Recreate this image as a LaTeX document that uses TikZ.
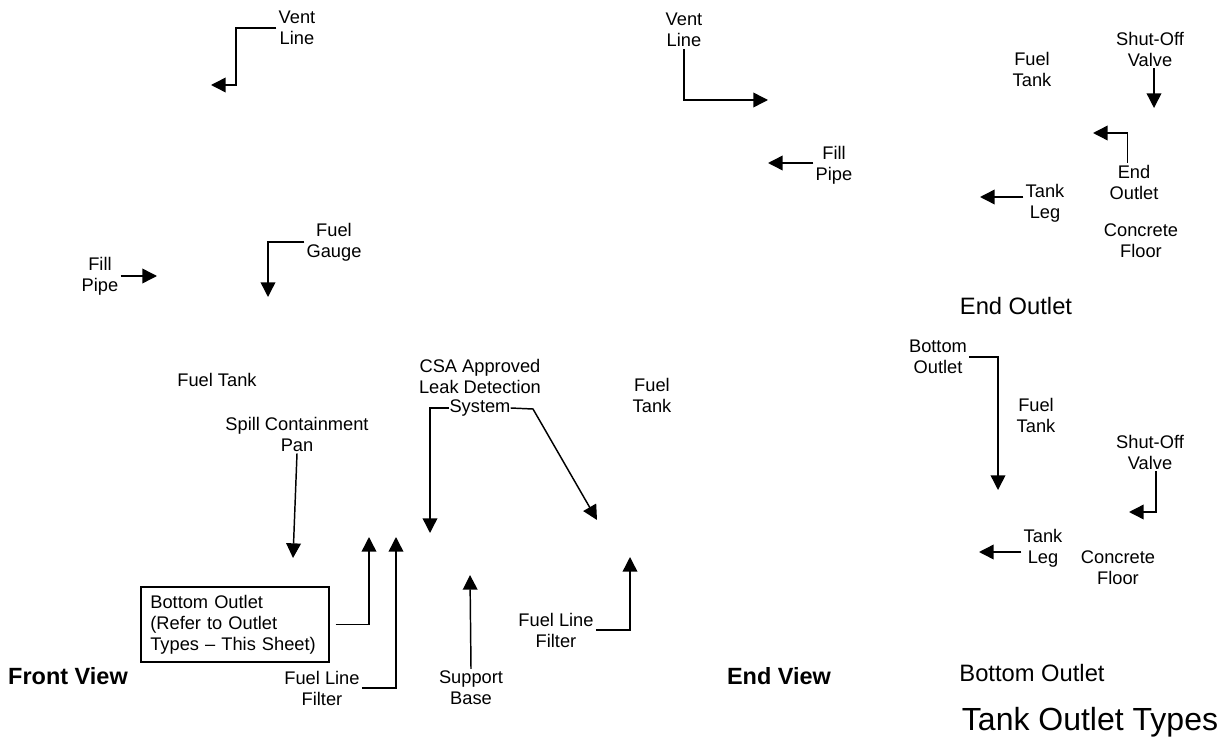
\documentclass[tikz,border=0pt]{standalone}
\usepackage{fontspec}
\setmainfont{Liberation Sans}
\usetikzlibrary{arrows.meta}
\newcommand{\lblfont}{\fontsize{13.7}{15.75}\selectfont}
\begin{document}
\begin{tikzpicture}
        [x=0.75pt, y=-0.75pt,
        lbl/.style={font=\lblfont, align=center, inner sep=1.5pt},
        view/.style={font=\fontsize{17.6}{20}\selectfont\bfseries, inner sep=0pt},
        head/.style={font=\fontsize{17.8}{20}\selectfont, inner sep=0pt},
        arr/.style={line width=1.1pt, -{Triangle[length=11pt,width=11pt]}}]
        \useasboundingbox (0,0) rectangle (1230,745);

        % front view
        \node[lbl] (VentF) at (297,28) {Vent\\Line};
        \node[lbl] (FillF) at (100,276) {Fill\\Pipe};
        \node[lbl] (GaugeF) at (334,242) {Fuel\\Gauge};
        \node[lbl] (TankF) at (217,380) {Fuel Tank};
        \node[lbl] (Spill) at (297,434) {Spill Containment\\Pan};
        \node[font=\lblfont, draw, line width=0.9pt, align=left, text width=127pt,
              inner xsep=7pt, minimum height=56.25pt] (Box) at (235,624.5)
              {Bottom Outlet\\(Refer to Outlet\\Types -- This Sheet)};
        \node[lbl] (FilterF) at (322,688) {Fuel Line\\Filter};
        \node[view] (FrontV) at (68,676) {Front View};

        \coordinate (VentFk) at (236,85);
        \coordinate (VentFt) at (211,85);
        \coordinate (FillFt) at (157,276);
        \coordinate (GaugeFt) at (268,297);
        \coordinate (SpillT) at (293,558);
        \coordinate (BoxT) at (369,537);
        \coordinate (FilterFt) at (396,537);

        \draw[arr] (VentF.west) -| (VentFk) -- (VentFt);
        \draw[arr] (FillF.east) -- (FillFt);
        \draw[arr] (GaugeF.west) -| (GaugeFt);
        \draw[arr] (Spill.south) -- (SpillT);
        \draw[arr] ([xshift=4.5pt]Box.east) -| (BoxT);
        \draw[arr] (FilterF.east) -| (FilterFt);

        % end view
        \node[lbl] (VentE) at (684,30) {Vent\\Line};
        \node[lbl] (FillE) at (834,165) {Fill\\Pipe};
        \node[lbl] (Csa) at (480,376) {CSA Approved\\Leak Detection};
        \node[lbl, inner xsep=0pt] (Sys) at (480,408) {System};
        \node[lbl] (TankE) at (652,395) {Fuel\\Tank};
        \node[lbl] (Support) at (471,688) {Support\\Base};
        \node[lbl] (FilterE) at (556,630) {Fuel Line\\Filter};
        \node[view] (EndV) at (779,676) {End View};

        \coordinate (VentEt) at (768,100);
        \coordinate (FillEt) at (768,163);
        \coordinate (SysL) at (430,533);
        \coordinate (SysK) at (533,409);
        \coordinate (SysR) at (597,520);
        \coordinate (SupportT) at (470,575);
        \coordinate (FilterEt) at (630,557);

        \draw[arr] (VentE.south) |- (VentEt);
        \draw[arr] (FillE.west |- FillEt) -- (FillEt);
        \draw[arr] (Sys.west) -| (SysL);
        \draw[arr] (Sys.east) -- (SysK) -- (SysR);
        \draw[arr] (Support.north) -- (SupportT);
        \draw[arr] (FilterE.east) -| (FilterEt);

        % outlet types
        \node[lbl] (TankO) at (1032,69) {Fuel\\Tank};
        \node[lbl] (ShutO) at (1150,49) {Shut-Off\\Valve};
        \node[lbl] (EndO) at (1134,182) {End\\Outlet};
        \node[lbl] (LegO) at (1045,203) {Tank\\Leg};
        \node[lbl] (FloorO) at (1141,241) {Concrete\\Floor};
        \node[head] (EndOut) at (1016,306) {End Outlet};

        \node[lbl] (BotO) at (938,357) {Bottom\\Outlet};
        \node[lbl] (TankB) at (1036,415) {Fuel\\Tank};
        \node[lbl] (ShutB) at (1150,452) {Shut-Off\\Valve};
        \node[lbl] (LegB) at (1043,548) {Tank\\Leg};
        \node[lbl] (FloorB) at (1118,568) {Concrete\\Floor};
        \node[head] (BotOut) at (1032,673) {Bottom Outlet};
        \node[font=\fontsize{24}{28}\selectfont, inner sep=0pt] (Types) at (1090,722) {Tank Outlet Types};

        \coordinate (ShutOt) at (1154,108);
        \coordinate (EndOt) at (1093,133);
        \coordinate (LegOt) at (980,197);
        \coordinate (BotOt) at (998,490);
        \coordinate (ShutBt) at (1129,512);
        \coordinate (LegBt) at (979,552);

        \draw[arr] (ShutOt |- ShutO.south) -- (ShutOt);
        \draw[arr] ([xshift=-5pt]EndO.north) |- (EndOt);
        \draw[arr] (LegO.west |- LegOt) -- (LegOt);
        \draw[arr] (BotO.east) -| (BotOt);
        \draw[arr] ([xshift=4.5pt]ShutB.south) |- (ShutBt);
        \draw[arr] (LegB.west |- LegBt) -- (LegBt);

    \end{tikzpicture}
\end{document}
